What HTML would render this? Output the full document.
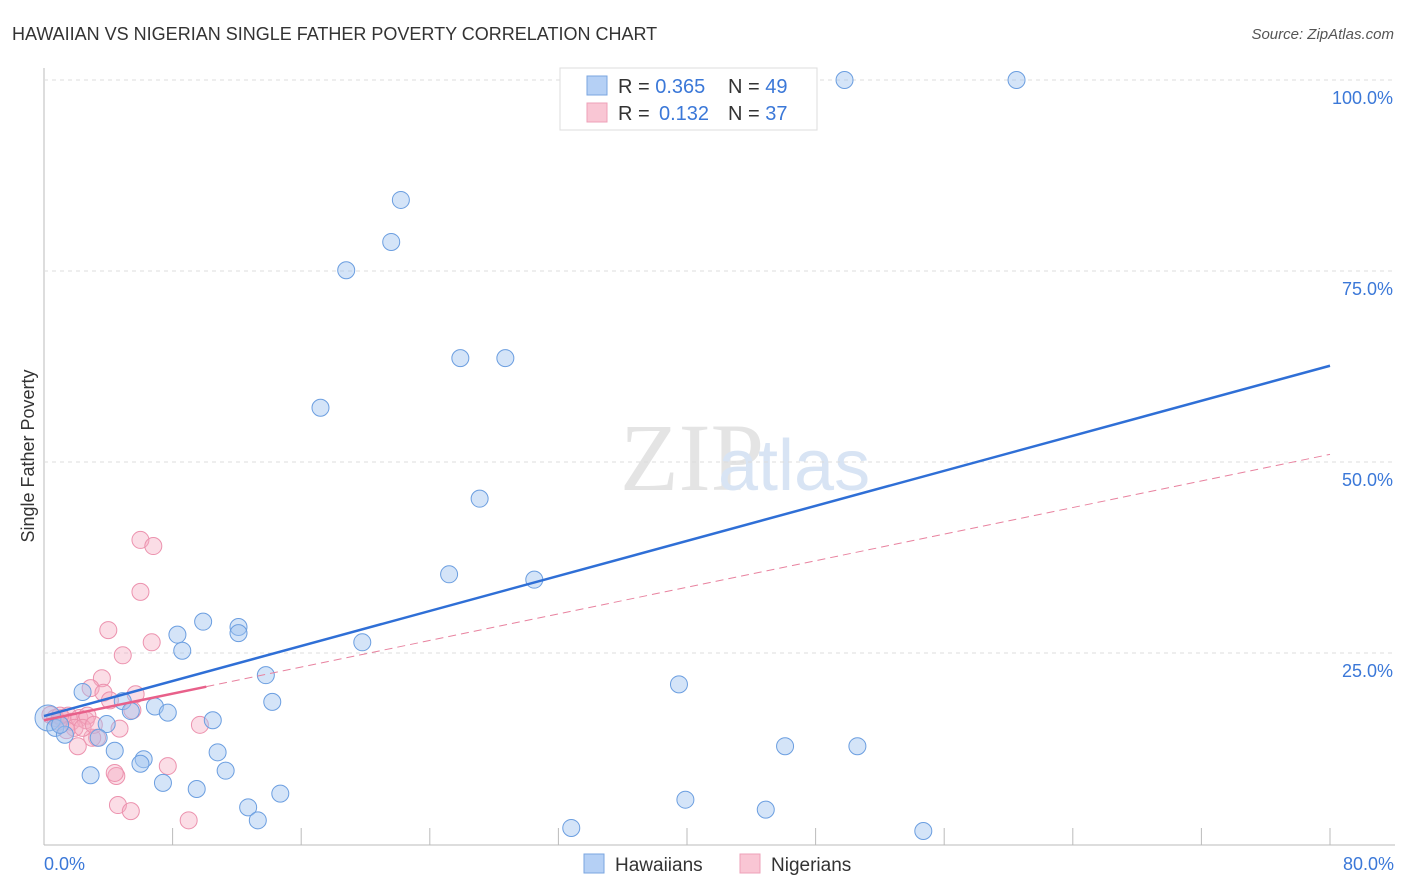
<!DOCTYPE html>
<html><head><meta charset="utf-8"><style>
body{margin:0;background:#fff;font-family:"Liberation Sans",sans-serif}
svg{display:block}
</style></head><body>
<svg id="c" width="1406" height="892">
<text x="12" y="40" font-size="18" fill="#333">HAWAIIAN VS NIGERIAN SINGLE FATHER POVERTY CORRELATION CHART</text>
<text x="1394" y="39" font-size="15" fill="#555" font-style="italic" text-anchor="end">Source: ZipAtlas.com</text>
<text x="620" y="490" font-size="96" fill="#e4e4e4" font-family="Liberation Serif,serif">ZIP</text>
<text x="718" y="490" font-size="72" fill="#d8e4f4">atlas</text>
<text transform="translate(34,456) rotate(-90)" font-size="18" fill="#333" text-anchor="middle">Single Father Poverty</text>
<g id="grid"></g><g id="pts"></g><g id="trend"></g>
<g>
<rect x="560" y="68" width="257" height="62" fill="#fff" stroke="#ddd"/>
<rect x="587" y="76" width="20" height="19" fill="#b5d0f5" stroke="#7aa6e0"/>
<rect x="587" y="103" width="20" height="19" fill="#f9c6d4" stroke="#eea0b8"/>
<text x="618" y="93" font-size="20" fill="#333">R = <tspan fill="#3b78d8">0.365</tspan><tspan x="728">N = </tspan><tspan fill="#3b78d8">49</tspan></text>
<text x="618" y="120" font-size="20" fill="#333">R = <tspan fill="#3b78d8" x="659">0.132</tspan><tspan x="728">N = </tspan><tspan fill="#3b78d8">37</tspan></text>
</g>
<g>
<rect x="584" y="854" width="20" height="19" fill="#b5d0f5" stroke="#7aa6e0"/>
<text x="615" y="871" font-size="19" fill="#333">Hawaiians</text>
<rect x="740" y="854" width="20" height="19" fill="#f9c6d4" stroke="#eea0b8"/>
<text x="771" y="871" font-size="19" fill="#333">Nigerians</text>
</g>
</svg>
<script>
const hawX=[49.8,60.5,22.2,21.6,18.8,17.2,25.9,28.7,27.1,25.2,30.5,19.8,9.9,8.3,8.6,12.1,12.1,13.8,14.2,2.4,4.9,6.9,7.7,5.4,10.5,3.9,4.4,6.2,6.0,10.8,11.3,2.9,7.4,9.5,12.7,13.3,14.7,32.8,39.9,44.9,46.1,50.6,54.7,39.5,0.25,0.7,1.3,3.4,1.0];
const hawY=[100,100,84.3,78.8,75.1,57.1,63.6,63.6,45.2,35.3,34.6,26.4,29.1,27.4,25.3,28.4,27.6,22.1,18.6,19.9,18.7,18.0,17.2,17.4,16.2,15.7,12.2,11.1,10.5,12.0,9.6,9.0,8.0,7.2,4.8,3.1,6.6,2.1,5.8,4.5,12.8,12.8,1.7,20.9,16.5,15.2,14.3,13.9,15.6];
const nigX=[6.0,6.8,6.0,4.0,6.7,4.9,3.6,2.9,3.7,5.7,4.1,5.5,4.7,9.7,7.7,4.5,4.4,4.6,5.4,9.0,3.3,3.0,2.1,0.4,0.7,1.1,1.5,1.7,2.2,2.6,2.7,1.9,1.4,0.9,2.4,3.1,1.0];
const nigY=[39.8,39.0,33.0,28.0,26.4,24.7,21.7,20.4,19.8,19.6,18.8,17.5,15.1,15.6,10.2,8.9,9.3,5.1,4.3,3.1,13.9,13.9,12.8,16.9,16.5,16.5,16.8,16.0,16.5,16.2,16.8,15.2,14.9,16.0,15.2,15.6,16.8];
const hawTrend=[16.75,62.6];
const nigTrend=[16.2,51.0];
const nigSolidEnd=10.1;
const yTicks=[25,50,75,100];
const xTickLabels=["0.0%","80.0%"];
const NS="http://www.w3.org/2000/svg";
const sx=v=>44+v/80*1286, sy=v=>844-v*7.64;
function mk(tag,at,parent){const e=document.createElementNS(NS,tag);for(const k in at)e.setAttribute(k,at[k]);document.getElementById(parent).appendChild(e);return e;}
let ax=mk('line',{x1:44,y1:68,x2:44,y2:845,stroke:'#bbb'},'grid');

let bx=mk('line',{x1:44,y1:845,x2:1395,y2:845,stroke:'#bbb'},'grid');

for(let i=1;i<=10;i++){const x=44+i*128.6;let t=mk('line',{x1:x,y1:828,x2:x,y2:845,stroke:'#bbb'},'grid');
}
yTicks.forEach(v=>{let g=mk('line',{x1:44,y1:sy(v),x2:1395,y2:sy(v),stroke:'#ddd','stroke-dasharray':'4,4'},'grid');

let t=mk('text',{x:1393,y:sy(v)+24,'font-size':18,fill:'#3b78d8','text-anchor':'end'},'grid');t.textContent=v.toFixed(1)+'%';
});
let l0=mk('text',{x:44,y:870,'font-size':18,fill:'#3b78d8'},'grid');l0.textContent=xTickLabels[0];

let l1=mk('text',{x:1394,y:870,'font-size':18,fill:'#3b78d8','text-anchor':'end'},'grid');l1.textContent=xTickLabels[1];

nigX.forEach((x,i)=>{let c=mk('circle',{cx:sx(x),cy:sy(nigY[i]),r:8.5,fill:'rgba(245,170,192,0.4)',stroke:'#ec92ae','stroke-width':1},'pts');
});
hawX.forEach((x,i)=>{let c=mk('circle',{cx:sx(x),cy:sy(hawY[i]),r:i==44?13:8.5,fill:'rgba(160,196,240,0.45)',stroke:'#6b9ee0','stroke-width':1},'pts');
});
let bt=mk('line',{x1:sx(0),y1:sy(hawTrend[0]),x2:sx(80),y2:sy(hawTrend[1]),stroke:'#2f6fd6','stroke-width':2.5},'trend');

const nAt=x=>nigTrend[0]+(nigTrend[1]-nigTrend[0])*x/80;
let pd=mk('line',{x1:sx(nigSolidEnd),y1:sy(nAt(nigSolidEnd)),x2:sx(80),y2:sy(nigTrend[1]),stroke:'#e8829f','stroke-width':1,'stroke-dasharray':'8,5'},'trend');

let ps=mk('line',{x1:sx(0),y1:sy(nigTrend[0]),x2:sx(nigSolidEnd),y2:sy(nAt(nigSolidEnd)),stroke:'#e8608a','stroke-width':2.5},'trend');

</script>
</body></html>
